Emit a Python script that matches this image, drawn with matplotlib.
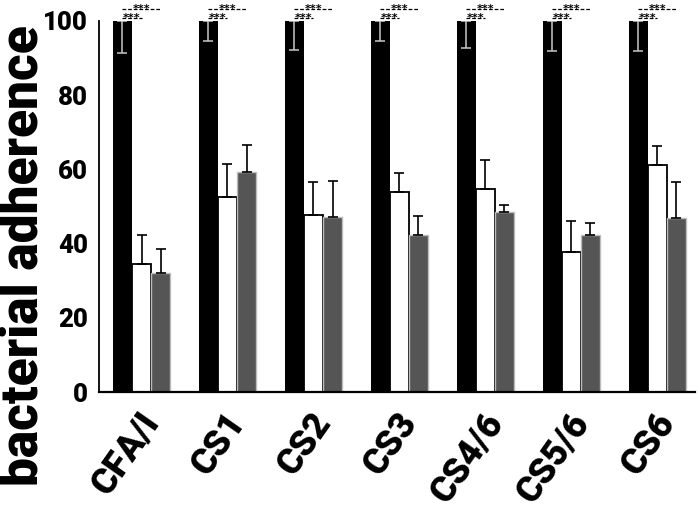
import matplotlib
matplotlib.use("Agg")
import matplotlib.pyplot as plt
import numpy as np
from matplotlib.transforms import ScaledTranslation

categories = ["CFA/I", "CS1", "CS2", "CS3", "CS4/6", "CS5/6", "CS6"]
black_vals = [100, 100, 100, 100, 100, 100, 100]
black_err = [8.6, 5.4, 7.8, 5.4, 7.3, 8.1, 8.0]
white_vals = [34.5, 52.5, 47.7, 53.9, 54.6, 37.7, 61.2]
white_err = [7.9, 8.9, 9.0, 5.2, 7.8, 8.3, 5.1]
gray_vals = [32.2, 59.3, 47.2, 42.4, 48.5, 42.4, 47.0]
gray_err = [6.4, 7.3, 9.6, 5.1, 1.8, 3.1, 9.7]
yticks = [0, 20, 40, 60, 80, 100]
sig_label = "***"

FONT = "Roboto"
W = "black"

fig = plt.figure(figsize=(7.0, 5.14), dpi=100)
ax = fig.add_axes([99/700, 1-392/514, (695-99)/700, (392-21)/514])

x = np.arange(len(categories))
w = 0.222

ax.bar(x - w, black_vals, width=w, color="black", edgecolor="black", linewidth=0, zorder=2)
ax.bar(x, white_vals, width=w, color="white", edgecolor="black", linewidth=1.3, zorder=2)
ax.bar(x + w, gray_vals, width=w, color="#555555", edgecolor="#bdbdbd", linewidth=1.0, zorder=2)

zeros = np.zeros(len(categories))
ax.errorbar(x - w, black_vals, yerr=[black_err, zeros], fmt="none", ecolor="#c8c8c8",
            elinewidth=1.1, capsize=3.6, capthick=1.1, zorder=3)
ax.errorbar(x, white_vals, yerr=[zeros, white_err], fmt="none", ecolor="black",
            elinewidth=1.2, capsize=3.6, capthick=1.2, zorder=3)
ax.errorbar(x + w, gray_vals, yerr=[zeros, gray_err], fmt="none", ecolor="black",
            elinewidth=1.2, capsize=3.6, capthick=1.2, zorder=3)

# significance marks
for i in x:
    ax.plot([i - w, i + w], [103.2, 103.2], color="black", lw=0.9, ls=(0, (3, 1.5)),
            clip_on=False, zorder=4)
    ax.text(i, 102.4, sig_label, ha="center", va="baseline", fontsize=8,
            fontweight="bold", family="DejaVu Sans", clip_on=False)
    ax.plot([i - w, i], [100.8, 100.8], color="black", lw=0.9, ls=(0, (3, 1.5)),
            clip_on=False, zorder=4)
    ax.text(i - w/2, 100.1, sig_label, ha="center", va="baseline", fontsize=8,
            fontweight="bold", family="DejaVu Sans", clip_on=False)

ax.set_xlim(-0.495, 6.44)
ax.set_ylim(0, 100)
ax.set_yticks(yticks)
ax.set_yticklabels([str(t) for t in yticks], fontsize=18.5, fontweight=W, family=FONT)
ax.tick_params(axis="y", length=0, pad=8)
ax.set_xticks(x)
ax.set_xticklabels(categories, fontsize=26, fontweight=W, family=FONT,
                   rotation=55, ha="right", va="center", rotation_mode="anchor")
ax.tick_params(axis="x", length=0, pad=0)
offset = ScaledTranslation(11/100, -24/100, fig.dpi_scale_trans)
for lab in ax.get_xticklabels():
    lab.set_transform(lab.get_transform() + offset)

for s in ["top", "right"]:
    ax.spines[s].set_visible(False)
ax.spines["left"].set_linewidth(1.3)
ax.spines["bottom"].set_linewidth(1.6)

fig.text(24/700, 1-256/514, "bacterial adherence", rotation=90, ha="center", va="center",
         fontsize=37, fontweight=W, family=FONT)

fig.savefig("out.png", dpi=100)
